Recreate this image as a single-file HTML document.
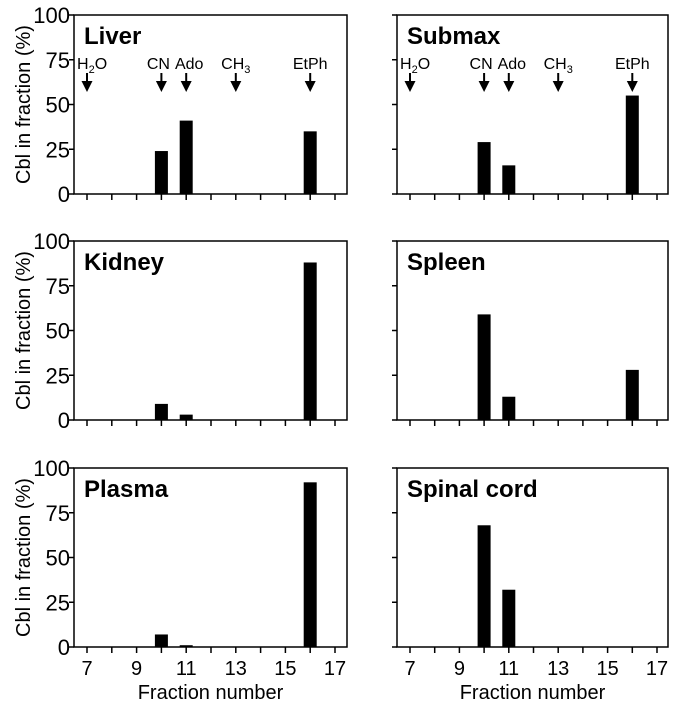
<!DOCTYPE html>
<html><head><meta charset="utf-8"><style>
body{margin:0;background:#fff}
svg text{font-family:"Liberation Sans",Arial,sans-serif}
</style></head><body>
<svg id="c" width="676" height="708" xmlns="http://www.w3.org/2000/svg"></svg>
<script>
const panelNames=["Liver","Submax","Kidney","Spleen","Plasma","Spinal cord"];
const fractions=[10,11,16];
const liverVals=[24,41,35];
const submaxVals=[29,16,55];
const kidneyVals=[9,3,88];
const spleenVals=[59,13,28];
const plasmaVals=[7,1,92];
const spinalVals=[68,32,0];
const yTicks=[0,25,50,75,100];
const xTickLabels=[7,9,11,13,15,17];
const markerLabels=["H2O","CN","Ado","CH3","EtPh"];
const markerFractions=[7,10,11,13,16];
const allVals=[liverVals,submaxVals,kidneyVals,spleenVals,plasmaVals,spinalVals];

const svg=document.getElementById('c');
const NS="http://www.w3.org/2000/svg";
function mk(t,a,p){const e=document.createElementNS(NS,t);for(const k in a)e.setAttribute(k,a[k]);(p||svg).appendChild(e);return e;}
const cols=[{x0:74,x1:347,f7:87,f17:335},{x0:397,x1:668,f7:410,f17:657}];
const rows=[{y0:15,y1:194},{y0:241,y1:420},{y0:468,y1:647}];
for(let i=0;i<6;i++){
  const c=cols[i%2],r=rows[Math.floor(i/2)];
  const g=mk('g',{});
  
  
  const X=f=>c.f7+(f-7)*(c.f17-c.f7)/10;
  const Y=v=>r.y1-v*(r.y1-r.y0)/100;
  const frame=mk('rect',{x:c.x0,y:r.y0,width:c.x1-c.x0,height:r.y1-r.y0,fill:'none',stroke:'#000','stroke-width':1.5},g);
  
  
  yTicks.forEach(v=>{
    mk('line',{x1:c.x0-5,x2:c.x0,y1:Y(v),y2:Y(v),stroke:'#000','stroke-width':1.5},g);
    if(i%2==0){const t=mk('text',{x:c.x0-4,y:Y(v)+8,'text-anchor':'end','font-size':22},g);t.textContent=v;
      
      }
  });
  for(let f=7;f<=17;f++){
    mk('line',{x1:X(f),x2:X(f),y1:r.y1,y2:r.y1+6,stroke:'#000','stroke-width':1.5},g);
  }
  if(Math.floor(i/2)==2){
    xTickLabels.forEach(f=>{const t=mk('text',{x:X(f),y:r.y1+28,'text-anchor':'middle','font-size':20},g);t.textContent=f;
      
      });
    const xt=mk('text',{x:(c.x0+c.x1)/2,y:r.y1+52,'text-anchor':'middle','font-size':20},g);xt.textContent="Fraction number";
    
    
  }
  if(i%2==0){
    const cy=(r.y0+r.y1)/2;
    const yt=mk('text',{x:30,y:cy,'text-anchor':'middle','font-size':20,transform:`rotate(-90 30 ${cy})`},g);yt.textContent="Cbl in fraction (%)";
    
    
  }
  const tt=mk('text',{x:c.x0+10,y:r.y0+29,'font-size':24,'font-weight':'bold'},g);tt.textContent=panelNames[i];
  
  
  fractions.forEach((f,j)=>{
    const v=allVals[i][j];if(!v)return;
    const b=mk('rect',{x:X(f)-6.5,y:Y(v),width:13,height:Y(0)-Y(v),fill:'#000'},g);
    
    
  });
  if(i<2){
    markerFractions.forEach((f,j)=>{
      const x=X(f);
      const lab=markerLabels[j];
      const off=[0,-3,3,0,0][j];
      const t=mk('text',{x:j==0?x-10:x+off,y:r.y0+54,'text-anchor':j==0?'start':'middle','font-size':16},g);
      if(lab==="H2O"){t.textContent='H';
        const s=mk('tspan',{'font-size':11,dy:4},t);s.textContent='2';
        const s2=mk('tspan',{dy:-4},t);s2.textContent='O';}
      else if(lab==="CH3"){t.textContent='CH';
        const s=mk('tspan',{'font-size':11,dy:4},t);s.textContent='3';}
      else t.textContent=lab;
      
      
      mk('line',{x1:x,x2:x,y1:r.y0+58,y2:r.y0+70,stroke:'#000','stroke-width':2},g);
      mk('polygon',{points:`${x-5.5},${r.y0+66} ${x+5.5},${r.y0+66} ${x},${r.y0+77}`,fill:'#000'},g);
    });
  }
}
</script>
</body></html>
